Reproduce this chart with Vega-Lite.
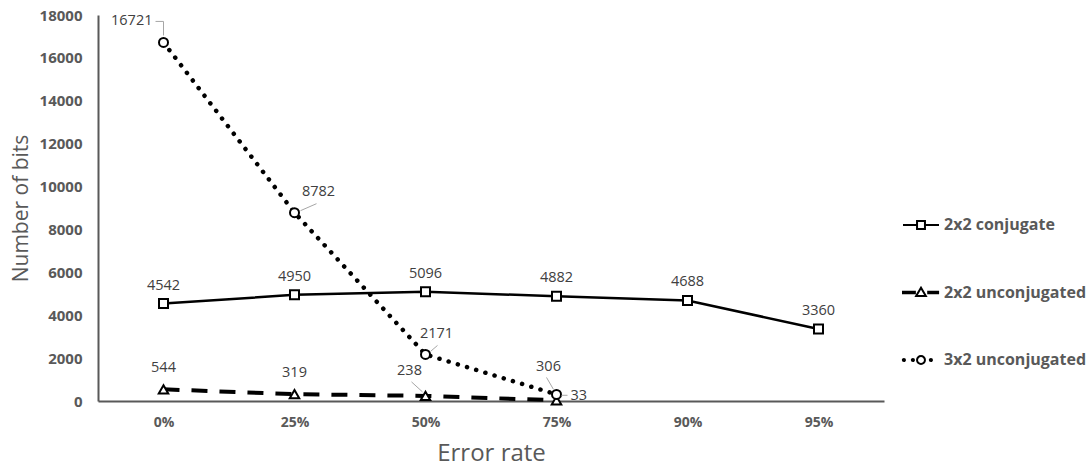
{
  "$schema": "https://vega.github.io/schema/vega-lite/v6.json",
  "width": 786,
  "height": 386,
  "autosize": "none",
  "padding": {"left": 98, "top": 15, "right": 207, "bottom": 67},
  "background": "white",
  "config": {
    "view": {"stroke": null},
    "font": "Open Sans",
    "text": {"font": "Open Sans", "fontSize": 14.5, "color": "#404040", "baseline": "middle"}
  },
  "data": {
    "values": [
      {"rate": "0%", "series": "2x2 conjugate", "value": 4542},
      {"rate": "25%", "series": "2x2 conjugate", "value": 4950},
      {"rate": "50%", "series": "2x2 conjugate", "value": 5096},
      {"rate": "75%", "series": "2x2 conjugate", "value": 4882},
      {"rate": "90%", "series": "2x2 conjugate", "value": 4688},
      {"rate": "95%", "series": "2x2 conjugate", "value": 3360},
      {"rate": "0%", "series": "2x2 unconjugated", "value": 544},
      {"rate": "25%", "series": "2x2 unconjugated", "value": 319},
      {"rate": "50%", "series": "2x2 unconjugated", "value": 238},
      {"rate": "75%", "series": "2x2 unconjugated", "value": 33},
      {"rate": "0%", "series": "3x2 unconjugated", "value": 16721},
      {"rate": "25%", "series": "3x2 unconjugated", "value": 8782},
      {"rate": "50%", "series": "3x2 unconjugated", "value": 2171},
      {"rate": "75%", "series": "3x2 unconjugated", "value": 306}
    ]
  },
  "encoding": {
    "x": {
      "field": "rate", "type": "ordinal",
      "sort": ["0%", "25%", "50%", "75%", "90%", "95%"],
      "scale": {"type": "point", "padding": 0.5, "domain": ["0%", "25%", "50%", "75%", "90%", "95%"]},
      "axis": {
        "title": "Error rate", "titleFont": "Open Sans", "titleFontSize": 24, "titleFontWeight": "normal", "titleColor": "#595959", "titlePadding": 12,
        "labelFont": "Open Sans", "labelFontSize": 14, "labelFontWeight": "bold", "labelColor": "#595959", "labelPadding": 14, "labelAngle": 0,
        "ticks": false, "grid": false, "domainColor": "#595959", "domainWidth": 2
      }
    },
    "y": {
      "field": "value", "type": "quantitative",
      "scale": {"domain": [0, 18000], "nice": false},
      "axis": {
        "title": "Number of bits", "titleFont": "Open Sans", "titleFontSize": 21, "titleFontWeight": "normal", "titleColor": "#595959", "titlePadding": 8,
        "values": [0, 2000, 4000, 6000, 8000, 10000, 12000, 14000, 16000, 18000], "format": "d",
        "labelFont": "Open Sans", "labelFontSize": 15, "labelFontWeight": "bold", "labelColor": "#595959", "labelPadding": 16,
        "ticks": false, "grid": false, "domainColor": "#595959", "domainWidth": 2
      }
    }
  },
  "layer": [
    {"transform": [{"filter": "datum.series == '2x2 conjugate'"}], "mark": {"type": "line", "color": "black", "strokeWidth": 2.5}},
    {"transform": [{"filter": "datum.series == '2x2 unconjugated'"}], "mark": {"type": "line", "color": "black", "strokeWidth": 4, "strokeDash": [16, 12]}},
    {"transform": [{"filter": "datum.series == '3x2 unconjugated'"}], "mark": {"type": "line", "color": "black", "strokeWidth": 4.5, "strokeDash": [0.1, 9.5], "strokeCap": "round"}},
    {
      "mark": {"type": "point", "filled": false, "color": "black", "strokeWidth": 1, "size": 4},
      "encoding": {
        "shape": {
          "field": "series", "type": "nominal",
          "scale": {
            "domain": ["2x2 conjugate", "2x2 unconjugated", "3x2 unconjugated"],
            "range": [
              "M-1,0H-0.22M0.22,0H1M-0.22,-0.22H0.22V0.22H-0.22Z",
              "M-1,-0.04H-0.34V0.04H-1ZM0.4,-0.04H0.95V0.04H0.4ZM-0.27,0.2L0,-0.27L0.27,0.2Z",
              "M-0.89,0A0.06,0.06 0 1,1 -1.01,0A0.06,0.06 0 1,1 -0.89,0ZM-0.39,0A0.06,0.06 0 1,1 -0.51,0A0.06,0.06 0 1,1 -0.39,0ZM0.61,0A0.06,0.06 0 1,1 0.49,0A0.06,0.06 0 1,1 0.61,0ZM0.22,0A0.22,0.22 0 1,1 -0.22,0A0.22,0.22 0 1,1 0.22,0Z"
            ]
          },
          "legend": {
            "title": null, "orient": "none", "legendX": 804, "legendY": 191, "padding": 0,
            "symbolSize": 1296, "rowPadding": 40.5, "labelOffset": 4,
            "symbolStrokeColor": "black", "symbolFillColor": "white", "symbolStrokeWidth": 2, "symbolOpacity": 1,
            "labelFont": "Open Sans", "labelFontSize": 16, "labelFontWeight": "bold", "labelColor": "#595959"
          }
        }
      }
    },
    {
      "transform": [{"filter": "datum.series == '2x2 conjugate'"}],
      "mark": {"type": "point", "shape": "square", "filled": false, "color": "black", "fill": "white", "fillOpacity": 1, "strokeWidth": 2, "size": 81, "opacity": 1}
    },
    {
      "transform": [{"filter": "datum.series == '2x2 unconjugated'"}],
      "mark": {"type": "point", "shape": "triangle-up", "filled": false, "color": "black", "fill": "white", "fillOpacity": 1, "strokeWidth": 2, "size": 90, "opacity": 1}
    },
    {
      "transform": [{"filter": "datum.series == '3x2 unconjugated'"}],
      "mark": {"type": "point", "shape": "circle", "filled": false, "color": "black", "fill": "white", "fillOpacity": 1, "strokeWidth": 2, "size": 81, "opacity": 1}
    },
    {"transform": [{"filter": "datum.series == '3x2 unconjugated' && datum.rate == '0%'"}], "mark": {"type": "rule", "color": "#a6a6a6", "strokeWidth": 1, "xOffset": -8, "yOffset": -21, "x2Offset": 0, "y2Offset": -21}, "encoding": {"x2": {"field": "rate"}, "y2": {"field": "value"}}},
    {"transform": [{"filter": "datum.series == '3x2 unconjugated' && datum.rate == '0%'"}], "mark": {"type": "rule", "color": "#a6a6a6", "strokeWidth": 1, "xOffset": 0, "yOffset": -21, "x2Offset": 0, "y2Offset": -7}, "encoding": {"x2": {"field": "rate"}, "y2": {"field": "value"}}},
    {"transform": [{"filter": "datum.series == '3x2 unconjugated' && datum.rate == '25%'"}], "mark": {"type": "rule", "color": "#a6a6a6", "strokeWidth": 1, "xOffset": 6, "yOffset": -2, "x2Offset": 22, "y2Offset": -9}, "encoding": {"x2": {"field": "rate"}, "y2": {"field": "value"}}},
    {"transform": [{"filter": "datum.series == '3x2 unconjugated' && datum.rate == '50%'"}], "mark": {"type": "rule", "color": "#a6a6a6", "strokeWidth": 1, "xOffset": 5, "yOffset": -3, "x2Offset": 12, "y2Offset": -9}, "encoding": {"x2": {"field": "rate"}, "y2": {"field": "value"}}},
    {"transform": [{"filter": "datum.series == '3x2 unconjugated' && datum.rate == '75%'"}], "mark": {"type": "rule", "color": "#a6a6a6", "strokeWidth": 1, "xOffset": -10, "yOffset": -17, "x2Offset": -3, "y2Offset": -5}, "encoding": {"x2": {"field": "rate"}, "y2": {"field": "value"}}},
    {"transform": [{"filter": "datum.series == '2x2 unconjugated' && datum.rate == '50%'"}], "mark": {"type": "rule", "color": "#a6a6a6", "strokeWidth": 1, "xOffset": -14, "yOffset": -14, "x2Offset": -3, "y2Offset": -4}, "encoding": {"x2": {"field": "rate"}, "y2": {"field": "value"}}},
    {"transform": [{"filter": "datum.series == '2x2 unconjugated' && datum.rate == '75%'"}], "mark": {"type": "rule", "color": "#a6a6a6", "strokeWidth": 1, "xOffset": 5, "yOffset": -5, "x2Offset": 11, "y2Offset": -5}, "encoding": {"x2": {"field": "rate"}, "y2": {"field": "value"}}},
    {"transform": [{"filter": "datum.series == '2x2 conjugate'"}], "mark": {"type": "text", "dy": -18}, "encoding": {"text": {"field": "value", "type": "quantitative", "format": "d"}}},
    {"transform": [{"filter": "datum.series == '2x2 unconjugated' && (datum.rate == '0%' || datum.rate == '25%')"}], "mark": {"type": "text", "dy": -21}, "encoding": {"text": {"field": "value", "type": "quantitative", "format": "d"}}},
    {"transform": [{"filter": "datum.series == '2x2 unconjugated' && datum.rate == '50%'"}], "mark": {"type": "text", "dx": -16, "dy": -25}, "encoding": {"text": {"field": "value", "type": "quantitative", "format": "d"}}},
    {"transform": [{"filter": "datum.series == '2x2 unconjugated' && datum.rate == '75%'"}], "mark": {"type": "text", "align": "left", "dx": 14, "dy": -4}, "encoding": {"text": {"field": "value", "type": "quantitative", "format": "d"}}},
    {"transform": [{"filter": "datum.series == '3x2 unconjugated' && datum.rate == '0%'"}], "mark": {"type": "text", "align": "right", "dx": -11, "dy": -21}, "encoding": {"text": {"field": "value", "type": "quantitative", "format": "d"}}},
    {"transform": [{"filter": "datum.series == '3x2 unconjugated' && datum.rate == '25%'"}], "mark": {"type": "text", "dx": 24, "dy": -21}, "encoding": {"text": {"field": "value", "type": "quantitative", "format": "d"}}},
    {"transform": [{"filter": "datum.series == '3x2 unconjugated' && datum.rate == '50%'"}], "mark": {"type": "text", "dx": 11, "dy": -20}, "encoding": {"text": {"field": "value", "type": "quantitative", "format": "d"}}},
    {"transform": [{"filter": "datum.series == '3x2 unconjugated' && datum.rate == '75%'"}], "mark": {"type": "text", "dx": -8, "dy": -27}, "encoding": {"text": {"field": "value", "type": "quantitative", "format": "d"}}}
  ]
}
